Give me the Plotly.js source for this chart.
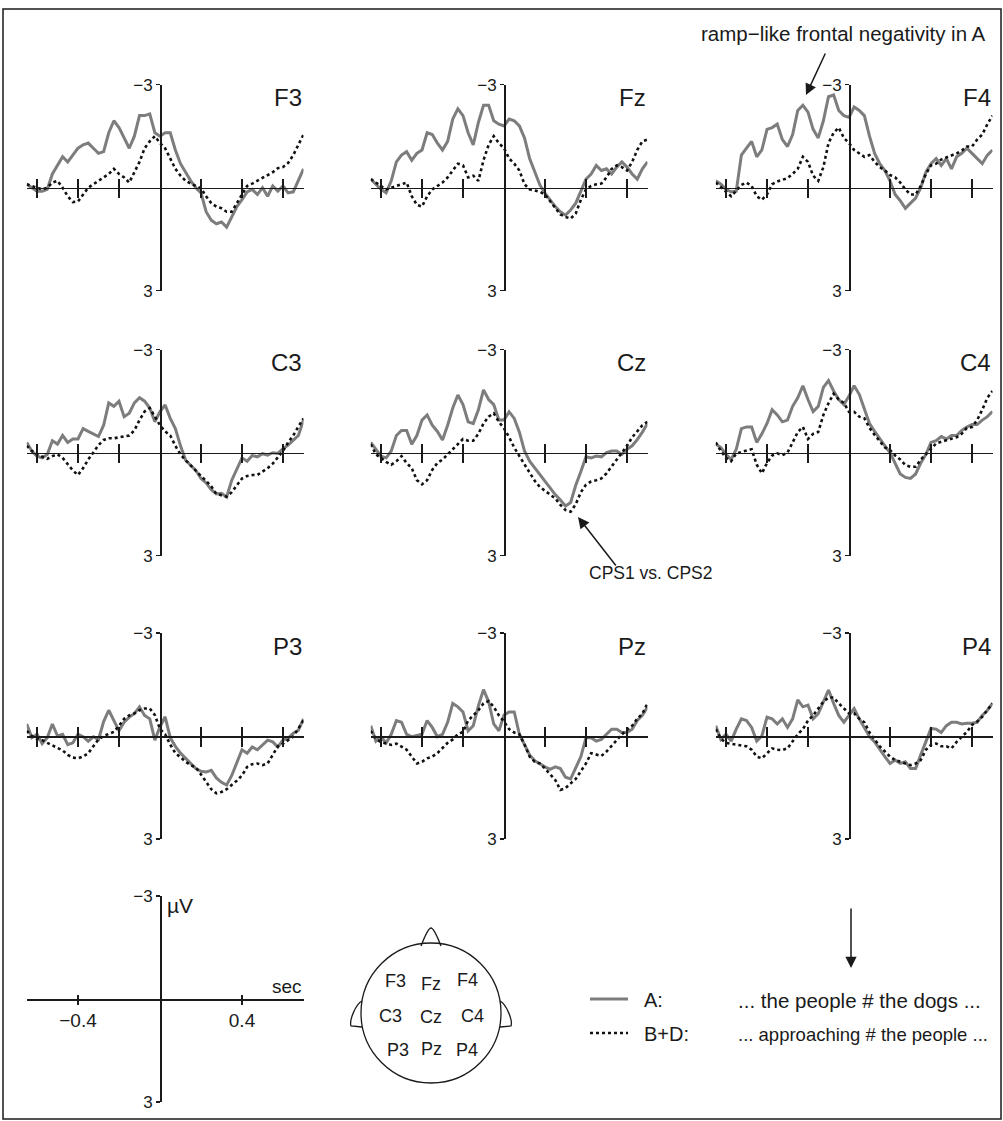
<!DOCTYPE html>
<html><head><meta charset="utf-8">
<script src="https://cdn.plot.ly/plotly-3.0.1.min.js"></script>
<style>body{margin:0;background:#fff}#chart{width:1003px;height:1121px}</style>
</head><body><div id="chart"></div>
<script>
// ---------------- DATA ----------------
const time = [-0.65,-0.625,-0.6,-0.575,-0.55,-0.525,-0.5,-0.475,-0.45,-0.425,-0.4,-0.375,-0.35,-0.325,-0.3,-0.275,-0.25,-0.225,-0.2,-0.175,-0.15,-0.125,-0.1,-0.075,-0.05,-0.025,0,0.025,0.05,0.075,0.1,0.125,0.15,0.175,0.2,0.225,0.25,0.275,0.3,0.325,0.35,0.375,0.4,0.425,0.45,0.475,0.5,0.525,0.55,0.575,0.6,0.625,0.65,0.675,0.7];
const electrodes = ['F3','Fz','F4','C3','Cz','C4','P3','Pz','P4'];
const panelTicks = [-0.6,-0.4,-0.2,0.2,0.4,0.6];
const scaleTicks = [-0.4,0.4];
const scaleTickText = ['\u22120.4','0.4'];
const voltTicks = [-3,3];
const voltTickText = ['\u22123','3'];
const seriesNames = ['A:','B+D:'];
const sentences = ['... the people # the dogs ...','... approaching # the people ...'];

const A_F3 = [-0.1,0.0,0.1,0.1,0.05,-0.4,-0.65,-0.9,-0.75,-0.95,-1.15,-1.25,-1.3,-1.15,-1.0,-1.05,-1.6,-1.95,-1.75,-1.45,-1.15,-1.5,-2.1,-2.1,-2.15,-1.6,-1.5,-1.6,-1.6,-1.1,-0.7,-0.45,-0.2,0.0,0.15,0.7,0.95,1.05,1.0,1.15,0.85,0.55,0.35,0.12,0.05,0.2,0.0,0.25,-0.05,0.1,-0.05,0.15,0.12,-0.2,-0.55];
const BD_F3 = [-0.1,-0.05,0.0,0.05,0.0,-0.15,-0.2,0.0,0.25,0.42,0.4,0.2,0.0,-0.1,-0.2,-0.3,-0.4,-0.55,-0.4,-0.3,-0.15,-0.45,-0.75,-1.15,-1.35,-1.5,-1.3,-1.15,-0.85,-0.55,-0.35,-0.2,-0.12,-0.05,0.02,0.25,0.45,0.55,0.6,0.7,0.7,0.45,0.2,-0.05,-0.12,-0.2,-0.27,-0.35,-0.45,-0.57,-0.6,-0.72,-0.95,-1.25,-1.55];
const A_Fz = [-0.25,-0.1,0.05,0.15,-0.2,-0.75,-0.95,-1.05,-0.8,-1.0,-1.1,-1.6,-1.55,-1.3,-1.1,-1.35,-2.0,-2.3,-2.1,-1.6,-1.25,-1.9,-2.4,-2.4,-1.95,-1.85,-1.8,-2.0,-1.95,-1.8,-1.45,-0.85,-0.45,-0.08,0.16,0.36,0.55,0.7,0.8,0.65,0.45,0.1,-0.25,-0.4,-0.65,-0.5,-0.55,-0.4,-0.6,-0.75,-0.6,-0.4,-0.25,-0.55,-0.75];
const BD_Fz = [-0.25,-0.15,-0.05,0.05,0.0,-0.05,-0.1,-0.15,0.25,0.5,0.55,0.25,0.05,-0.05,-0.15,-0.3,-0.5,-0.7,-0.65,-0.3,-0.35,-0.2,-0.8,-1.25,-1.5,-1.3,-1.15,-0.85,-0.7,-0.5,-0.1,0.05,0.08,0.12,0.2,0.4,0.6,0.78,0.85,0.9,0.75,0.35,0.05,-0.05,-0.1,-0.12,-0.3,-0.55,-0.65,-0.6,-0.5,-0.75,-1.1,-1.35,-1.4];
const A_F4 = [-0.2,-0.1,0.05,0.12,0.1,-0.95,-1.15,-1.35,-0.9,-1.1,-1.7,-1.75,-1.85,-1.4,-1.2,-1.55,-2.25,-2.4,-2.2,-1.7,-1.45,-1.95,-2.65,-2.7,-2.25,-2.1,-2.05,-2.35,-2.25,-2.1,-1.5,-1.0,-0.7,-0.5,-0.2,0.2,0.38,0.6,0.45,0.3,0.0,-0.45,-0.7,-0.85,-0.65,-0.85,-0.55,-0.9,-1.0,-1.15,-1.0,-0.85,-0.7,-0.95,-1.1];
const BD_F4 = [-0.15,0.0,0.12,0.25,0.1,-0.08,-0.15,-0.05,0.25,0.35,0.2,-0.1,-0.18,-0.22,-0.28,-0.4,-0.55,-0.9,-0.75,-0.35,-0.2,-0.6,-1.3,-1.6,-1.75,-1.45,-1.3,-1.1,-1.0,-0.9,-0.95,-0.75,-0.6,-0.5,-0.37,-0.3,-0.15,0.05,0.2,0.2,-0.05,-0.4,-0.65,-0.7,-0.82,-0.88,-0.93,-1.0,-1.08,-1.2,-1.2,-1.4,-1.55,-1.85,-2.1];
const A_C3 = [-0.3,-0.05,0.1,0.15,0.05,-0.35,-0.25,-0.5,-0.3,-0.4,-0.4,-0.7,-0.62,-0.55,-0.47,-0.8,-1.45,-1.35,-1.5,-1.05,-1.15,-1.45,-1.6,-1.5,-1.3,-0.9,-1.2,-1.39,-1.0,-0.7,-0.2,0.22,0.38,0.52,0.75,0.88,1.08,1.2,1.18,1.29,0.8,0.45,0.15,0.25,0.08,0.12,0.03,0.07,0.0,0.02,-0.12,-0.22,-0.37,-0.5,-0.95];
const BD_C3 = [-0.2,-0.05,0.05,0.12,0.18,0.1,0.05,0.15,0.35,0.52,0.65,0.45,0.2,0.0,-0.22,-0.37,-0.42,-0.42,-0.45,-0.47,-0.5,-0.65,-0.95,-1.2,-1.3,-1.05,-0.8,-0.62,-0.5,-0.2,0.05,0.22,0.38,0.52,0.68,0.82,0.98,1.2,1.23,1.28,1.15,0.95,0.75,0.68,0.65,0.65,0.55,0.45,0.32,0.15,-0.05,-0.3,-0.5,-0.76,-1.0];
const A_Cz = [-0.3,-0.1,0.1,0.15,-0.05,-0.5,-0.65,-0.65,-0.25,-0.5,-0.95,-1.1,-0.8,-0.62,-0.37,-0.8,-1.3,-1.68,-1.4,-0.9,-0.85,-1.25,-1.83,-1.55,-1.4,-0.95,-0.95,-1.19,-1.0,-0.6,-0.05,0.25,0.45,0.65,0.85,1.05,1.22,1.38,1.55,1.45,0.95,0.55,0.12,0.15,0.1,0.12,0.0,-0.05,-0.05,0.05,-0.1,-0.2,-0.38,-0.6,-0.85];
const BD_Cz = [-0.25,0.05,0.15,0.27,0.35,0.25,0.1,0.3,0.45,0.8,0.92,0.8,0.5,0.3,0.2,0.05,-0.1,-0.27,-0.4,-0.35,-0.35,-0.55,-0.85,-1.05,-1.15,-0.9,-0.71,-0.45,-0.15,0.1,0.35,0.6,0.82,1.0,1.12,1.22,1.33,1.52,1.67,1.72,1.5,1.15,0.93,0.84,0.8,0.75,0.6,0.41,0.2,0.0,-0.2,-0.45,-0.62,-0.8,-0.9];
const A_C4 = [-0.25,-0.15,0.05,0.2,-0.1,-0.7,-0.75,-0.75,-0.3,-0.55,-0.85,-1.25,-1.1,-0.9,-0.95,-1.35,-1.6,-1.95,-1.55,-1.2,-1.35,-1.9,-2.1,-1.8,-1.55,-1.4,-1.65,-1.95,-1.7,-1.25,-0.85,-0.62,-0.4,-0.2,0.0,0.3,0.62,0.72,0.75,0.62,0.3,0.05,-0.3,-0.35,-0.47,-0.4,-0.5,-0.5,-0.65,-0.75,-0.82,-0.82,-0.95,-1.05,-1.2];
const BD_C4 = [-0.3,-0.05,0.15,0.25,0.02,-0.02,-0.05,-0.1,0.35,0.6,0.3,0.08,0.02,0.07,0.0,-0.3,-0.6,-0.75,-0.4,-0.55,-0.6,-1.1,-1.44,-1.72,-1.55,-1.45,-1.19,-1.19,-1.05,-1.0,-0.72,-0.52,-0.35,-0.15,-0.08,0.08,0.2,0.36,0.41,0.41,0.2,0.05,-0.12,-0.27,-0.32,-0.37,-0.4,-0.45,-0.55,-0.72,-0.75,-0.95,-1.25,-1.6,-1.8];
const A_P3 = [-0.35,0.05,-0.05,0.22,0.05,-0.35,0.0,-0.05,0.25,0.2,-0.05,0.02,0.15,0.02,0.1,-0.42,-0.75,-0.45,-0.15,-0.4,-0.55,-0.65,-0.85,-0.6,-0.5,0.12,-0.27,-0.56,0.05,0.3,0.5,0.65,0.8,0.95,1.03,1.05,1.0,1.22,1.35,1.43,1.15,0.75,0.4,0.5,0.32,0.4,0.27,0.12,0.17,0.32,0.12,0.07,-0.08,-0.17,-0.5];
const BD_P3 = [-0.15,0.0,0.08,0.12,0.2,0.28,0.36,0.42,0.55,0.63,0.65,0.6,0.5,0.31,0.1,0.0,-0.05,-0.12,-0.3,-0.5,-0.6,-0.66,-0.75,-0.8,-0.8,-0.61,-0.2,-0.05,0.25,0.5,0.62,0.75,0.85,0.92,1.12,1.33,1.55,1.67,1.63,1.55,1.43,1.3,1.15,0.9,0.82,0.8,0.85,0.8,0.55,0.3,0.22,0.12,0.02,-0.22,-0.45];
const A_Pz = [-0.3,0.15,0.02,0.2,-0.05,-0.45,-0.4,-0.05,0.02,-0.02,-0.05,-0.45,-0.25,0.02,-0.05,-0.4,-0.95,-0.85,-0.7,-0.15,-0.3,-0.88,-1.35,-1.0,-0.35,-0.15,-0.61,-0.7,-0.7,-0.05,0.25,0.55,0.72,0.82,0.9,0.97,0.9,0.95,1.2,1.25,0.9,0.6,0.05,0.05,0.15,0.1,-0.05,-0.2,-0.2,-0.1,-0.1,-0.2,-0.45,-0.6,-0.85];
const BD_Pz = [-0.15,0.08,0.18,0.22,0.26,0.22,0.3,0.4,0.6,0.8,0.75,0.65,0.6,0.5,0.35,0.2,0.1,-0.05,-0.12,-0.45,-0.6,-0.75,-0.95,-1.02,-0.85,-0.6,-0.42,-0.2,-0.1,-0.05,0.25,0.6,0.75,0.8,0.95,1.1,1.28,1.57,1.52,1.38,1.25,1.02,0.8,0.5,0.55,0.58,0.45,0.3,0.12,-0.05,-0.17,-0.3,-0.5,-0.65,-0.95];
const A_P4 = [-0.3,0.1,-0.05,0.15,-0.2,-0.5,-0.45,-0.25,0.15,0.0,-0.55,-0.5,-0.35,-0.5,-0.25,-0.5,-1.05,-0.85,-0.9,-0.5,-0.65,-1.0,-1.34,-0.95,-0.6,-0.4,-0.6,-0.8,-0.5,-0.25,0.02,0.17,0.4,0.6,0.8,0.7,0.8,0.75,0.95,0.95,0.55,0.15,-0.22,-0.2,-0.1,-0.3,-0.4,-0.4,-0.35,-0.37,-0.37,-0.4,-0.6,-0.75,-0.95];
const BD_P4 = [-0.2,0.08,0.2,0.22,0.26,0.26,0.3,0.4,0.6,0.65,0.5,0.36,0.4,0.41,0.36,0.15,-0.05,-0.2,-0.45,-0.6,-0.8,-1.0,-1.12,-1.12,-0.95,-0.8,-0.66,-0.66,-0.5,-0.4,-0.1,0.1,0.3,0.45,0.6,0.7,0.75,0.8,0.85,0.8,0.7,0.4,0.26,0.22,0.3,0.3,0.36,0.17,0.02,-0.12,-0.32,-0.42,-0.56,-0.75,-0.95];

const seriesA = {F3:A_F3, Fz:A_Fz, F4:A_F4, C3:A_C3, Cz:A_Cz, C4:A_C4, P3:A_P3, Pz:A_Pz, P4:A_P4};
const seriesBD = {F3:BD_F3, Fz:BD_Fz, F4:BD_F4, C3:BD_C3, Cz:BD_Cz, C4:BD_C4, P3:BD_P3, Pz:BD_Pz, P4:BD_P4};

// ---------------- LAYOUT GEOMETRY ----------------
const W = 1003, H = 1121;
const FONT = 'Liberation Sans, Arial, Helvetica, sans-serif';
const INK = '#1a1a1a';
const GRAY = '#7d7d7d';
const colZero = [160, 504, 849];
const rowZero = [187.7, 452.7, 736, 999];
const pxPerSec = 205, pxPerUV = 34.33;
const tRange = [-0.65, 0.70];
const vLim = 3;
const px = x => x / W;
const py = y => 1 - y / H;

const data = [];
const layout = {
  width: W, height: H, margin: {l:0, r:0, t:0, b:0},
  paper_bgcolor: '#fff', plot_bgcolor: 'rgba(0,0,0,0)',
  showlegend: false, font: {family: FONT, color: INK},
  annotations: [], shapes: []
};
const axName = (n, p) => p + 'axis' + (n === 1 ? '' : n);
const axRef = (n, p) => p + (n === 1 ? '' : n);

function addPanel(k, row, col, isScale) {
  const m = 2*k+1, o = 2*k+2;
  const xd = [px(colZero[col] + tRange[0]*pxPerSec), px(colZero[col] + tRange[1]*pxPerSec)];
  const yd = [py(rowZero[row] + vLim*pxPerUV), py(rowZero[row] - vLim*pxPerUV)];
  const xPos = py(rowZero[row]);
  const yPos = px(colZero[col]);
  const xtl = isScale ? 4 : 9;
  const common = {showgrid:false, zeroline:false, fixedrange:true, automargin:false,
    tickcolor: INK, tickwidth: 1.5, linecolor: INK, linewidth: 1.5};
  layout[axName(m,'x')] = Object.assign({}, common, {domain: xd, range: tRange, anchor:'free', position: xPos,
    showline:true, ticks:'outside', ticklen: xtl,
    tickvals: isScale ? scaleTicks : panelTicks,
    ticktext: isScale ? scaleTickText : undefined,
    showticklabels: !!isScale, tickfont:{size:19, family:FONT, color:INK}});
  layout[axName(o,'x')] = Object.assign({}, common, {overlaying: axRef(m,'x'), range: tRange, anchor:'free', position: xPos,
    showline:false, ticks:'inside', ticklen: xtl,
    tickvals: isScale ? scaleTicks : panelTicks, showticklabels:false});
  layout[axName(m,'y')] = Object.assign({}, common, {domain: yd, range: [vLim, -vLim], anchor:'free', position: yPos,
    showline:true, ticks:'outside', ticklen:4, tickvals: voltTicks, ticktext: voltTickText,
    tickfont:{size:17, family:FONT, color:INK}});
  layout[axName(o,'y')] = Object.assign({}, common, {overlaying: axRef(m,'y'), range: [vLim, -vLim], anchor:'free', position: yPos,
    showline:false, ticks:'inside', ticklen:4, tickvals: voltTicks, showticklabels:false});
  data.push({x:[null], y:[null], xaxis: axRef(o,'x'), yaxis: axRef(o,'y'), mode:'lines', hoverinfo:'skip', showlegend:false});
  return {xr: axRef(m,'x'), yr: axRef(m,'y')};
}

electrodes.forEach((e, k) => {
  const row = Math.floor(k/3), col = k % 3;
  const r = addPanel(k, row, col, false);
  data.push({x: time, y: seriesA[e], xaxis: r.xr, yaxis: r.yr, mode:'lines',
    line:{color: GRAY, width: 3}, hoverinfo:'skip', showlegend:false, name: seriesNames[0]});
  data.push({x: time, y: seriesBD[e], xaxis: r.xr, yaxis: r.yr, mode:'lines',
    line:{color: '#111', width: 2.6, dash:'dot'}, hoverinfo:'skip', showlegend:false, name: seriesNames[1]});
  layout.annotations.push({xref: r.xr + ' domain', yref: r.yr + ' domain', x: 1.0, y: 1 - 13/206,
    xanchor:'right', yanchor:'middle', text: e, showarrow:false, font:{size:24, family:FONT, color:INK}});
});

// scale panel
const sc = addPanel(9, 3, 0, true);
data.push({x:[null], y:[null], xaxis: sc.xr, yaxis: sc.yr, mode:'lines', hoverinfo:'skip', showlegend:false});
layout.annotations.push({xref:'paper', yref:'paper', x: px(304), y: py(987), xanchor:'right', yanchor:'middle',
  text:'sec', showarrow:false, font:{size:19, family:FONT, color:INK}});
layout.annotations.push({xref:'paper', yref:'paper', x: px(165), y: py(905), xanchor:'left', yanchor:'middle',
  text:'\u00b5V', showarrow:false, font:{size:21, family:FONT, color:INK}});

// remarks and arrows
layout.annotations.push({xref:'paper', yref:'paper', x: px(843), y: py(34), xanchor:'center', yanchor:'middle',
  text:'ramp\u2212like frontal negativity in A', showarrow:false, font:{size:20.5, family:FONT, color:INK}});
layout.annotations.push({xref:'paper', yref:'paper', x: px(806), y: py(95), text:'', showarrow:true,
  ax: 20, ay: -43, arrowhead:2, arrowsize:1.5, arrowwidth:1.5, arrowcolor: INK});
layout.annotations.push({xref:'paper', yref:'paper', x: px(651), y: py(573), xanchor:'center', yanchor:'middle',
  text:'CPS1 vs. CPS2', showarrow:false, font:{size:17.5, family:FONT, color:INK}});
layout.annotations.push({xref:'paper', yref:'paper', x: px(578), y: py(517), text:'', showarrow:true,
  ax: 39, ay: 50, arrowhead:2, arrowsize:1.5, arrowwidth:1.5, arrowcolor: INK});
layout.annotations.push({xref:'paper', yref:'paper', x: px(851), y: py(968), text:'', showarrow:true,
  ax: 0, ay: -61, arrowhead:2, arrowsize:1.5, arrowwidth:1.5, arrowcolor: INK});

// head map
const hc = {x: 431, y: 1013, r: 70};
layout.shapes.push({type:'circle', xref:'paper', yref:'paper', x0: px(hc.x-hc.r), x1: px(hc.x+hc.r),
  y0: py(hc.y+hc.r), y1: py(hc.y-hc.r), line:{color: INK, width:1.3}});
const P = (x,y) => px(x).toFixed(5) + ',' + py(y).toFixed(5);
layout.shapes.push({type:'path', xref:'paper', yref:'paper', line:{color:INK, width:1.3},
  path: 'M' + P(421,946) + ' Q' + P(428,928) + ' ' + P(431,928) + ' Q' + P(434,928) + ' ' + P(441,946)});
layout.shapes.push({type:'path', xref:'paper', yref:'paper', line:{color:INK, width:1.3},
  path: 'M' + P(362,1001) + ' C' + P(356,1004) + ' ' + P(349,1020) + ' ' + P(351,1026) + ' L' + P(362,1027)});
layout.shapes.push({type:'path', xref:'paper', yref:'paper', line:{color:INK, width:1.3},
  path: 'M' + P(500,1001) + ' C' + P(506,1004) + ' ' + P(513,1020) + ' ' + P(511,1026) + ' L' + P(500,1027)});
const headPos = [[395,981],[431,984],[467,980],[390,1016],[431,1017],[472,1016],[398,1050],[431,1049],[467,1050]];
electrodes.forEach((e,k) => layout.annotations.push({xref:'paper', yref:'paper', x: px(headPos[k][0]), y: py(headPos[k][1]),
  xanchor:'center', yanchor:'middle', text:e, showarrow:false, font:{size:18, family:FONT, color:INK}}));

// legend
const legY = [999, 1033];
const legFont = [20.5, 18.5];
layout.shapes.push({type:'line', xref:'paper', yref:'paper', x0: px(590), x1: px(628), y0: py(legY[0]), y1: py(legY[0]),
  line:{color: GRAY, width:3}});
layout.shapes.push({type:'line', xref:'paper', yref:'paper', x0: px(590), x1: px(628), y0: py(legY[1]), y1: py(legY[1]),
  line:{color: '#111', width:2.6, dash:'dot'}});
seriesNames.forEach((s,i) => {
  layout.annotations.push({xref:'paper', yref:'paper', x: px(642), y: py(legY[i]+1), xanchor:'left', yanchor:'middle',
    text: s, showarrow:false, font:{size:20, family:FONT, color:INK}});
  layout.annotations.push({xref:'paper', yref:'paper', x: px(736), y: py(legY[i]+1), xanchor:'left', yanchor:'middle',
    text: sentences[i], showarrow:false, font:{size:legFont[i], family:FONT, color:INK}});
});

// frame
layout.shapes.push({type:'rect', xref:'paper', yref:'paper', x0: px(3), x1: px(1001), y0: py(1119), y1: py(9),
  line:{color: INK, width:1.5}});

Plotly.newPlot('chart', data, layout, {staticPlot:true, displayModeBar:false});
</script></body></html>
